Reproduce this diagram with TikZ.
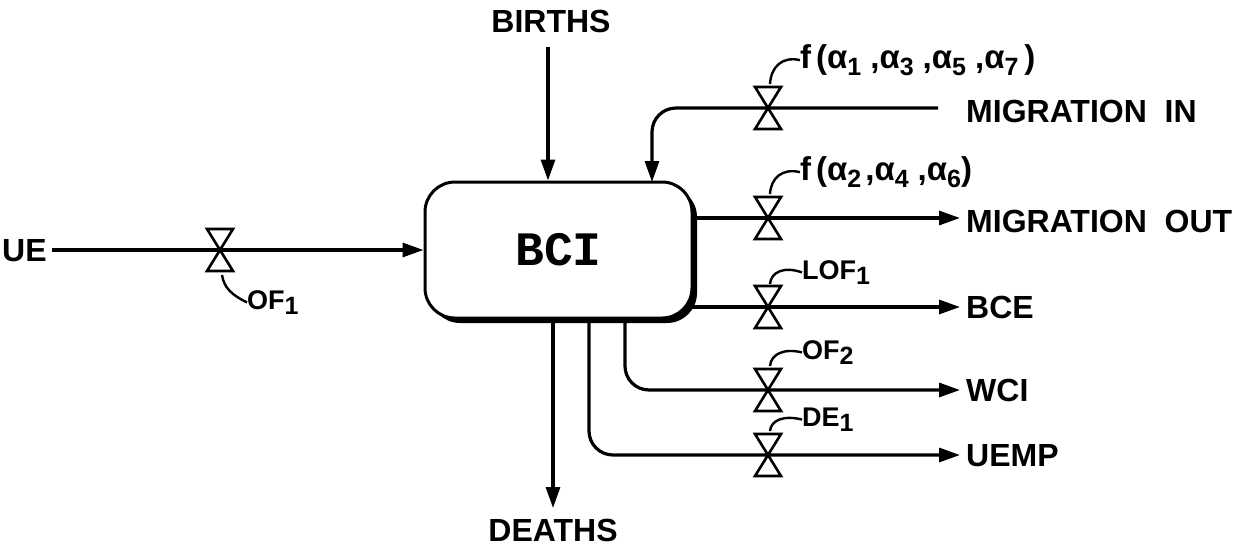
\documentclass[tikz,border=0pt]{standalone}
\usepackage{fontspec}
\setmainfont{Liberation Sans}
\newfontfamily\monofont{Liberation Mono}
\usetikzlibrary{arrows.meta,backgrounds}
\newcommand\sbs[1]{\raisebox{-0.4ex}{\fontsize{25}{25}\selectfont #1}}
\newcommand\asb[1]{\raisebox{-0.45ex}{\fontsize{25}{25}\selectfont #1}}
\begin{document}
\begin{tikzpicture}[x=1pt,y=-1pt,
  flow/.style={line width=3.2pt},
  tip/.style={-{Triangle[length=21pt,width=14pt]}},
  lbl/.style={font=\bfseries\fontsize{32}{32}\selectfont, inner sep=0pt, text height=23pt, text depth=0pt},
  sm/.style={font=\bfseries\fontsize{27}{27}\selectfont, inner sep=0pt, anchor=base west},
  fl/.style={font=\bfseries\fontsize{33}{33}\selectfont, inner sep=0pt, anchor=base west},
  lead/.style={line width=2.4pt},
  valve/.pic={\draw[line width=2.6pt, line join=miter] (-13,-21) -- (13,-21) -- (-13,21) -- (13,21) -- cycle;}
]
\useasboundingbox (0,0) rectangle (1243,546);

% shadow and stock box
\fill[black, rounded corners=30pt] (430,187) rectangle (697,323);
\node[draw, line width=3pt, rounded corners=30pt, minimum width=267pt, minimum height=136pt,
      fill=white, inner sep=0pt, font=\monofont\bfseries\fontsize{48}{48}\selectfont] (box) at (558.5,250) {BCI};

% text nodes
\node[lbl, anchor=west] (ue) at (2,250) {UE};
\node[lbl, anchor=south] (births) at (551,33) {BIRTHS};
\node[lbl, anchor=north] (deaths) at (553,518) {DEATHS};
\node[lbl, anchor=west] (mi) at (966,111) {MIGRATION\ \ IN};
\node[lbl, anchor=west] (mo) at (966,221) {MIGRATION\ \ OUT};
\node[lbl, anchor=west] (bce) at (966,307) {BCE};
\node[lbl, anchor=west] (wci) at (966,390) {WCI};
\node[lbl, anchor=west] (uemp) at (966,455) {UEMP};

% valves and free ends
\coordinate (v0) at (220,250);
\coordinate (v1) at (768,108);
\coordinate (v2) at (768,218);
\coordinate (v3) at (768,307);
\coordinate (v4) at (768,390);
\coordinate (v5) at (768,455);
\coordinate (miend) at (938,108);
\coordinate (btop) at (548,47);
\coordinate (dtop) at (553,300);

\begin{pgfonlayer}{background}
\draw[flow, tip] (ue.east) ++(5,0) -- (box.west);
\draw[flow, tip] (btop) -- (btop |- box.north);
\draw[flow, tip, shorten >=10pt] (dtop) -- (deaths.north);
\draw[flow, tip, rounded corners=24pt] (miend) -- (652,108) -- (652,182);
\draw[flow, tip, shorten >=6pt] (box.center |- v2) -- (mo.west |- v2);
\draw[flow, tip, shorten >=6pt] (box.center |- v3) -- (bce.west);
\draw[flow, tip, shorten >=6pt, rounded corners=24pt] (625,300) -- (625,390) -- (wci.west);
\draw[flow, tip, shorten >=6pt, rounded corners=24pt] (589,300) -- (589,455) -- (uemp.west);
\end{pgfonlayer}

\pic at (v0) {valve};
\pic at (v1) {valve};
\pic at (v2) {valve};
\pic at (v3) {valve};
\pic at (v4) {valve};
\pic at (v5) {valve};

% rate labels
\node[sm] (l0) at (247,309) {OF\sbs{1}};
\draw[lead] (222,275) .. controls (224,288) and (232,295) .. (l0.west);
\node[fl] (l1) at (800,68) {f\hspace{5pt}(α\asb{1}\hspace{9pt},α\asb{3}\hspace{9pt},α\asb{5}\hspace{9pt},α\asb{7}\hspace{6pt})};
\draw[lead] (770,84) .. controls (771,67) and (782,56) .. (l1.west);
\node[fl] (l2) at (800,180) {f\hspace{5pt}(α\asb{2}\hspace{4pt},α\asb{4}\hspace{9pt},α\asb{6})};
\draw[lead] (770,194) .. controls (771,178) and (782,168) .. (l2.west);
\node[sm] (l3) at (802,279) {LOF\sbs{1}};
\draw[lead] (770,284) .. controls (771,272) and (784,266) .. (l3.west);
\node[sm] (l4) at (802,359) {OF\sbs{2}};
\draw[lead] (770,366) .. controls (771,354) and (784,348) .. (l4.west);
\node[sm] (l5) at (802,426) {DE\sbs{1}};
\draw[lead] (770,431) .. controls (771,420) and (784,415) .. (l5.west);
\end{tikzpicture}
\end{document}
